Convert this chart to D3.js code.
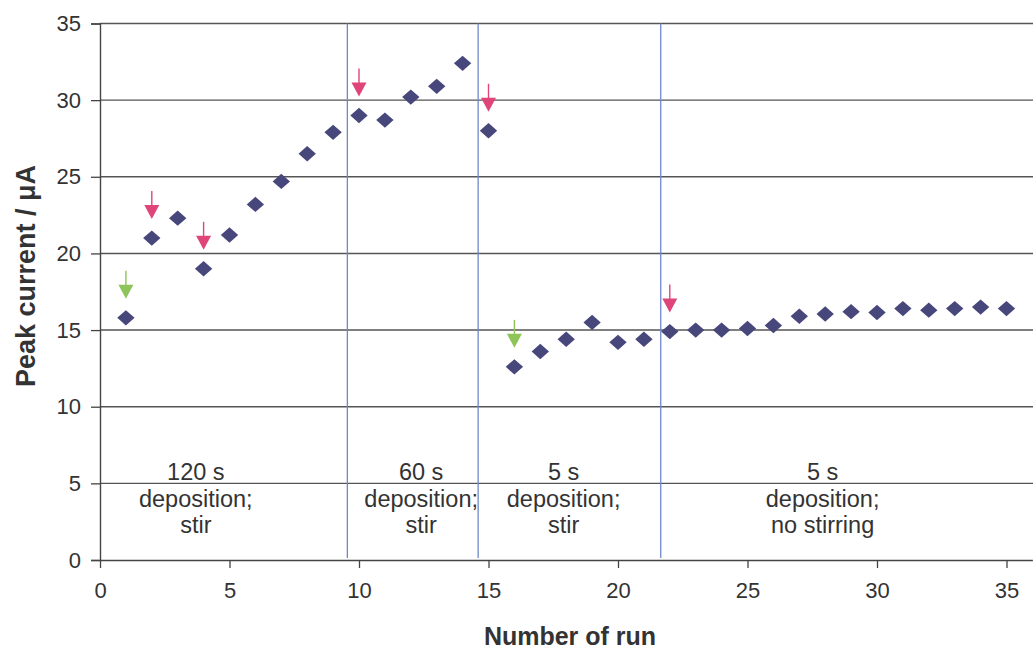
<!DOCTYPE html>
<html>
<head>
<meta charset="utf-8">
<script src="https://cdn.jsdelivr.net/npm/d3@7"></script>
<style>
  html, body { margin: 0; padding: 0; background: #fff; }
  svg { display: block; font-family: "Liberation Sans", Arial, sans-serif; }
</style>
</head>
<body>
<svg id="chart" width="1033" height="652"></svg>
<script>
// Run numbers and measured peak currents (µA)
const runs = d3.range(1, 36);
const peakCurrent = [
  15.8, 21.0, 22.3, 19.0, 21.2, 23.2, 24.7, 26.5, 27.9, 29.0,
  28.7, 30.2, 30.9, 32.4, 28.0, 12.6, 13.6, 14.4, 15.5, 14.2,
  14.4, 14.9, 15.0, 15.0, 15.1, 15.3, 15.9, 16.05, 16.2, 16.15,
  16.4, 16.3, 16.4, 16.5, 16.4
];

// Runs marked with arrows
const redArrowRuns = [2, 4, 10, 15, 22];
const greenArrowRuns = [1, 16];

// Boundaries between deposition regimes (run axis units)
const regimeBreaks = [9.55, 14.6, 21.65];

// Regime labels: centre (run axis units) and text lines
const regimeCenters = [3.7, 12.4, 17.9, 27.9];
const regimeLabels = [
  ["120 s", "deposition;", "stir"],
  ["60 s", "deposition;", "stir"],
  ["5 s", "deposition;", "stir"],
  ["5 s", "deposition;", "no stirring"]
];

const xTicks = [0, 5, 10, 15, 20, 25, 30, 35];
const yTicks = [0, 5, 10, 15, 20, 25, 30, 35];

const svg = d3.select("#chart");
const plotLeft = 100, plotRight = 1032.4, plotTop = 23.5, plotBottom = 560;

const x = d3.scaleLinear().domain([0, 36]).range([plotLeft, plotRight]);
const y = d3.scaleLinear().domain([0, 35]).range([plotBottom, plotTop]);

// horizontal gridlines
svg.append("g")
  .selectAll("line")
  .data(yTicks.filter(d => d > 0))
  .join("line")
  .attr("x1", plotLeft).attr("x2", 1033)
  .attr("y1", d => y(d)).attr("y2", d => y(d))
  .attr("stroke", "#555").attr("stroke-width", 1.4);

// regime separators
svg.append("g")
  .selectAll("line")
  .data(regimeBreaks)
  .join("line")
  .attr("x1", d => x(d)).attr("x2", d => x(d))
  .attr("y1", y(35)).attr("y2", y(0) - 2)
  .attr("stroke", "#7088c8").attr("stroke-width", 1.3);

// y axis
const yAxis = svg.append("g")
  .attr("transform", `translate(${plotLeft},0)`)
  .call(d3.axisLeft(y).tickValues(yTicks).tickSize(9).tickPadding(10));
yAxis.select(".domain").attr("stroke", "#444").attr("stroke-width", 1.4);
yAxis.selectAll(".tick line").attr("stroke", "#444").attr("stroke-width", 1.3);
yAxis.selectAll(".tick text")
  .attr("font-size", 22).attr("fill", "#333")
  .attr("font-family", "Liberation Sans, Arial, sans-serif");

// x axis
const xAxis = svg.append("g")
  .attr("transform", `translate(0,${plotBottom})`)
  .call(d3.axisBottom(x).tickValues(xTicks).tickSize(8).tickPadding(14).tickSizeOuter(0));
xAxis.select(".domain").attr("stroke", "#444").attr("stroke-width", 1.4);
xAxis.selectAll(".tick line").attr("stroke", "#444").attr("stroke-width", 1.3);
xAxis.selectAll(".tick text")
  .attr("font-size", 22).attr("fill", "#333")
  .attr("font-family", "Liberation Sans, Arial, sans-serif");

// regime labels
const lbl = svg.append("g")
  .attr("font-size", 23.5).attr("fill", "#333").attr("text-anchor", "middle");
regimeLabels.forEach((lines, i) => {
  const t = lbl.append("text").attr("x", x(regimeCenters[i])).attr("y", y(5) - 3);
  lines.forEach((s, j) => {
    t.append("tspan").attr("x", x(regimeCenters[i])).attr("dy", j === 0 ? 0 : 26.5).text(s);
  });
});

// data points as diamonds (rotated squares, slightly wider than tall)
const points = runs.map((r, i) => ({ run: r, value: peakCurrent[i] }));
const square = d3.symbol().type(d3.symbolSquare).size(118);
svg.append("g")
  .selectAll("path")
  .data(points)
  .join("path")
  .attr("d", square)
  .attr("transform", d => `translate(${x(d.run)},${y(d.value)}) scale(1.13,1) rotate(45)`)
  .attr("fill", "#47477c");

// arrows above marked runs
function drawArrows(list, color) {
  const g = svg.append("g");
  list.forEach(r => {
    const p = points.find(d => d.run === r);
    const cx = x(p.run), tip = y(p.value) - 19;
    g.append("line")
      .attr("x1", cx).attr("x2", cx)
      .attr("y1", tip - 28).attr("y2", tip - 8)
      .attr("stroke", color).attr("stroke-width", 1.4);
    g.append("path")
      .attr("d", `M${cx - 7.5},${tip - 14} L${cx + 7.5},${tip - 14} L${cx},${tip} Z`)
      .attr("fill", color);
  });
}
drawArrows(redArrowRuns, "#e0457a");
drawArrows(greenArrowRuns, "#8fc45a");

// axis titles
svg.append("text")
  .attr("transform", `translate(35,276) rotate(-90)`)
  .attr("text-anchor", "middle")
  .attr("font-size", 27).attr("font-weight", "bold").attr("fill", "#333")
  .text("Peak current / μA");

svg.append("text")
  .attr("x", 570).attr("y", 645)
  .attr("text-anchor", "middle")
  .attr("font-size", 25).attr("font-weight", "bold").attr("fill", "#333")
  .text("Number of run");
</script>
</body>
</html>
